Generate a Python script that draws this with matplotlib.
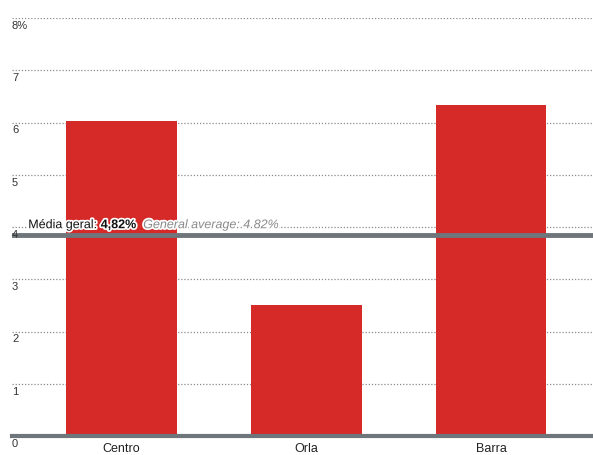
import matplotlib
matplotlib.use("Agg")
import matplotlib.pyplot as plt
import matplotlib.patheffects as pe
from matplotlib import font_manager

regions = ["Centro", "Orla", "Barra"]
values = [6.03, 2.51, 6.33]
y_ticks = [0, 1, 2, 3, 4, 5, 6, 7, 8]
y_tick_labels = ["0", "1", "2", "3", "4", "5", "6", "7", "8%"]
avg_line_y = 3.84
avg_label_pt = "Média geral: "
avg_value_pt = "4,82%"
avg_label_en = "  General average: 4.82%"

names = {f.name for f in font_manager.fontManager.ttflist}
family = ["Liberation Sans Narrow"] if "Liberation Sans Narrow" in names else ["Liberation Sans"]
plt.rcParams["font.family"] = family + ["DejaVu Sans"]

fig = plt.figure(figsize=(5.93, 4.55), dpi=100)
ax = fig.add_axes([12 / 593, 19 / 455, 581 / 593, 418 / 455])
ax.set_xlim(-0.593, 2.552)
ax.set_ylim(0, 8)
ax.axis("off")

# dotted grid
for t in y_ticks[1:]:
    ax.axhline(t, color="#8a8a8a", lw=0.9, ls=(0, (1, 1.5)), zorder=1)

ax.bar(range(len(regions)), values, width=0.6, color="#d52a27", zorder=2)

# baseline and average line
ax.axhline(0, color="#6e767b", lw=3, zorder=3, clip_on=False)
ax.axhline(avg_line_y, color="#6e767b", lw=3.5, zorder=3)

for t, lab in zip(y_ticks, y_tick_labels):
    ax.annotate(lab, xy=(0, t), xycoords=("axes fraction", "data"),
                xytext=(0, -2), textcoords="offset points",
                ha="left", va="top", fontsize=8, color="#333333", zorder=4)

for i, r in enumerate(regions):
    ax.annotate(r, xy=(i, 0), xycoords="data", xytext=(0, -5),
                textcoords="offset points", ha="center", va="top",
                fontsize=9, color="#222222")

stroke = [pe.withStroke(linewidth=2.5, foreground="white")]
t1 = ax.annotate(avg_label_pt, xy=(0.028, avg_line_y), xycoords=("axes fraction", "data"),
                 xytext=(0, 3), textcoords="offset points", ha="left", va="bottom",
                 fontsize=9, color="#111111", zorder=5, path_effects=stroke)
t2 = ax.annotate(avg_value_pt, xy=(1, 0), xycoords=t1, ha="left", va="bottom",
                 fontsize=9, fontweight="bold", color="#111111", zorder=5,
                 path_effects=stroke)
ax.annotate(avg_label_en, xy=(1, 0), xycoords=t2, ha="left", va="bottom",
            fontsize=9, style="italic", color="#8a8a8a", zorder=5,
            path_effects=stroke)

fig.savefig("out.png", dpi=100)
